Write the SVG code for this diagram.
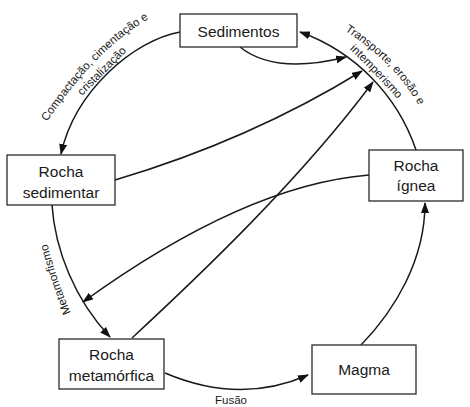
<svg xmlns="http://www.w3.org/2000/svg" width="470" height="407" viewBox="0 0 470 407">
<style>
.box{fill:#fff;stroke:#2a2a2a;stroke-width:1.3}
.lbl{font-family:"Liberation Sans",Arial,sans-serif;font-size:15.5px;fill:#1a1a1a;text-anchor:middle}
.edge{fill:none;stroke:#1a1a1a;stroke-width:1.5}
.elbl{font-family:"Liberation Sans",Arial,sans-serif;font-size:11.5px;fill:#1a1a1a}
</style>
<defs>
<marker id="arr" markerUnits="userSpaceOnUse" markerWidth="11" markerHeight="8" refX="10" refY="4" orient="auto">
<path d="M0,0 L11,4 L0,8 z" fill="#111"/>
</marker>
<path id="tp1" d="M45,125 Q95,49 152,17"/>
<path id="tp2" d="M79,99 L130,48"/>
<path id="tp3" d="M344,30 Q396,64 419,106"/>
<path id="tp4" d="M346,46 Q372,70 401,103"/>
<path id="tp5" d="M73,318 Q56,280 46,238"/>
</defs>
<g id="connectors">
<path class="edge" d="M180,32 C135,40 75,90 61,154" marker-end="url(#arr)"/>
<path class="edge" d="M115,180 Q250,140 362,71" marker-end="url(#arr)"/>
<path class="edge" d="M240,47 Q275,75 346,57" marker-end="url(#arr)"/>
<path class="edge" d="M416,150 A190,190 0 0 0 300,32" marker-end="url(#arr)"/>
<path class="edge" d="M52,205 C55,250 75,300 110,337" marker-end="url(#arr)"/>
<path class="edge" d="M165,373 Q240,405 308,375" marker-end="url(#arr)"/>
<path class="edge" d="M361,345 C395,310 425,260 425,203" marker-end="url(#arr)"/>
<path class="edge" d="M369,175 Q245,185 83,302" marker-end="url(#arr)"/>
<path class="edge" d="M132,338 C200,275 300,180 373,82" marker-end="url(#arr)"/>
<text class="elbl"><textPath href="#tp1" startOffset="50%" text-anchor="middle">Compactação, cimentação e</textPath></text>
<text class="elbl"><textPath href="#tp2" startOffset="50%" text-anchor="middle">cristalização</textPath></text>
<text class="elbl"><textPath href="#tp3" startOffset="50%" text-anchor="middle">Transporte, erosão e</textPath></text>
<text class="elbl"><textPath href="#tp4" startOffset="50%" text-anchor="middle">intemperismo</textPath></text>
<text class="elbl"><textPath href="#tp5" startOffset="50%" text-anchor="middle">Metamorfismo</textPath></text>
<text class="elbl" x="231" y="404" text-anchor="middle">Fusão</text>
</g>
<g id="sedimentos">
<rect class="box" x="180" y="14" width="117" height="33"/>
<text class="lbl" x="238.5" y="37">Sedimentos</text>
</g>
<g id="rocha-sedimentar">
<rect class="box" x="7" y="155" width="108" height="50"/>
<text class="lbl" x="61" y="177">Rocha</text>
<text class="lbl" x="61" y="198">sedimentar</text>
</g>
<g id="rocha-ignea">
<rect class="box" x="369" y="150" width="94" height="51"/>
<text class="lbl" x="416" y="171">Rocha</text>
<text class="lbl" x="416" y="191">ígnea</text>
</g>
<g id="rocha-metamorfica">
<rect class="box" x="59" y="339" width="105" height="50"/>
<text class="lbl" x="111.5" y="360">Rocha</text>
<text class="lbl" x="111.5" y="381">metamórfica</text>
</g>
<g id="magma">
<rect class="box" x="312" y="345" width="104" height="49"/>
<text class="lbl" x="364" y="375">Magma</text>
</g>
</svg>
